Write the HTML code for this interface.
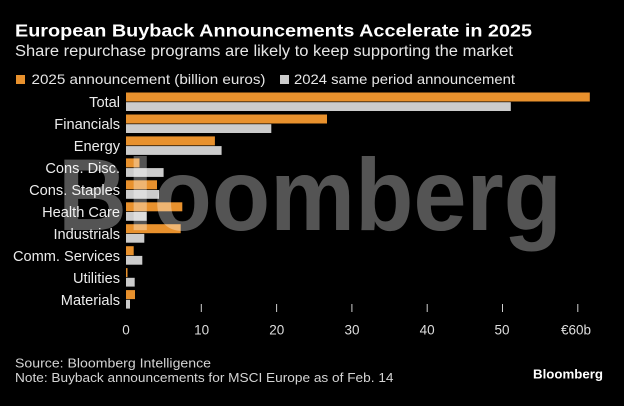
<!DOCTYPE html>
<html>
<head>
<meta charset="utf-8">
<style>
  html, body { margin:0; padding:0; background:#000; }
  svg { display:block; }
  text { font-family: "Liberation Sans", "DejaVu Sans", sans-serif; }
</style>
</head>
<body>
<svg width="624" height="406" viewBox="0 0 624 406" xmlns="http://www.w3.org/2000/svg">
  <rect x="0" y="0" width="624" height="406" fill="#000"/>

  <!-- Title & subtitle -->
  <text x="15" y="36.7" font-size="17.5" font-weight="bold" fill="#ffffff" textLength="517" lengthAdjust="spacingAndGlyphs">European Buyback Announcements Accelerate in 2025</text>
  <text x="15" y="56" font-size="15.5" fill="#e6e6e6" textLength="498" lengthAdjust="spacingAndGlyphs">Share repurchase programs are likely to keep supporting the market</text>

  <!-- Legend -->
  <rect x="16" y="75" width="9" height="9" fill="#e8912d"/>
  <text x="31.5" y="84" font-size="14" fill="#e6e6e6" textLength="234" lengthAdjust="spacingAndGlyphs">2025 announcement (billion euros)</text>
  <rect x="280" y="75" width="9" height="9" fill="#cccccc"/>
  <text x="294" y="84" font-size="14" fill="#e6e6e6" textLength="221" lengthAdjust="spacingAndGlyphs">2024 same period announcement</text>

  <!-- Category labels -->
  <g font-size="14.6" fill="#ececec" text-anchor="end">
    <text x="120" y="107.2">Total</text>
    <text x="120" y="129.2">Financials</text>
    <text x="120" y="151.1">Energy</text>
    <text x="120" y="173.1">Cons. Disc.</text>
    <text x="120" y="195">Cons. Staples</text>
    <text x="120" y="217">Health Care</text>
    <text x="120" y="238.9">Industrials</text>
    <text x="120" y="260.9">Comm. Services</text>
    <text x="120" y="282.8">Utilities</text>
    <text x="120" y="304.8">Materials</text>
  </g>

  <!-- Bars: orange (2025) -->
  <g fill="#e8912d">
    <rect x="126" y="92.5" width="463.8" height="9"/>
    <rect x="126" y="114.5" width="201" height="9"/>
    <rect x="126" y="136.4" width="88.9" height="9"/>
    <rect x="126" y="158.4" width="13.5" height="9"/>
    <rect x="126" y="180.3" width="31" height="9"/>
    <rect x="126" y="202.3" width="56.3" height="9"/>
    <rect x="126" y="224.2" width="54.7" height="9"/>
    <rect x="126" y="246.2" width="7.7" height="9"/>
    <rect x="126" y="268.1" width="1.5" height="9"/>
    <rect x="126" y="290.1" width="9" height="9"/>
  </g>
  <!-- Bars: gray (2024) -->
  <g fill="#cccccc">
    <rect x="126" y="102.2" width="384.8" height="8.8"/>
    <rect x="126" y="124.2" width="145.3" height="8.8"/>
    <rect x="126" y="146.1" width="95.6" height="8.8"/>
    <rect x="126" y="168.1" width="37.6" height="8.8"/>
    <rect x="126" y="190" width="33" height="8.8"/>
    <rect x="126" y="212" width="20.7" height="8.8"/>
    <rect x="126" y="233.9" width="18.3" height="8.8"/>
    <rect x="126" y="255.9" width="16.3" height="8.8"/>
    <rect x="126" y="277.8" width="8.7" height="8.8"/>
    <rect x="126" y="299.8" width="4" height="8.8"/>
  </g>

  <!-- Ticks -->
  <g stroke="#cfcfcf" stroke-width="1">
    <line x1="201.3" y1="304" x2="201.3" y2="312"/>
    <line x1="276.6" y1="304" x2="276.6" y2="312"/>
    <line x1="351.9" y1="304" x2="351.9" y2="312"/>
    <line x1="427.2" y1="304" x2="427.2" y2="312"/>
    <line x1="502.5" y1="304" x2="502.5" y2="312"/>
    <line x1="577.8" y1="304" x2="577.8" y2="312"/>
  </g>
  <g font-size="13.5" fill="#dddddd" text-anchor="middle">
    <text x="126" y="334.5">0</text>
    <text x="201.6" y="334.5">10</text>
    <text x="276.8" y="334.5">20</text>
    <text x="352" y="334.5">30</text>
    <text x="427.2" y="334.5">40</text>
    <text x="502" y="334.5">50</text>
    <text x="576" y="334.5">€60b</text>
  </g>

  <!-- Watermark -->
  <text x="58" y="230" font-size="102" font-weight="bold" fill="#ffffff" fill-opacity="0.33" textLength="504" lengthAdjust="spacingAndGlyphs">Bloomberg</text>

  <!-- Footer -->
  <text x="15" y="367.3" font-size="12.5" fill="#d4d4d4" textLength="196" lengthAdjust="spacingAndGlyphs">Source: Bloomberg Intelligence</text>
  <text x="15" y="382" font-size="12.5" fill="#d4d4d4" textLength="378.5" lengthAdjust="spacingAndGlyphs">Note: Buyback announcements for MSCI Europe as of Feb. 14</text>
  <text x="533" y="378.5" font-size="13" font-weight="bold" fill="#ffffff" textLength="70" lengthAdjust="spacingAndGlyphs">Bloomberg</text>
</svg>
</body>
</html>
